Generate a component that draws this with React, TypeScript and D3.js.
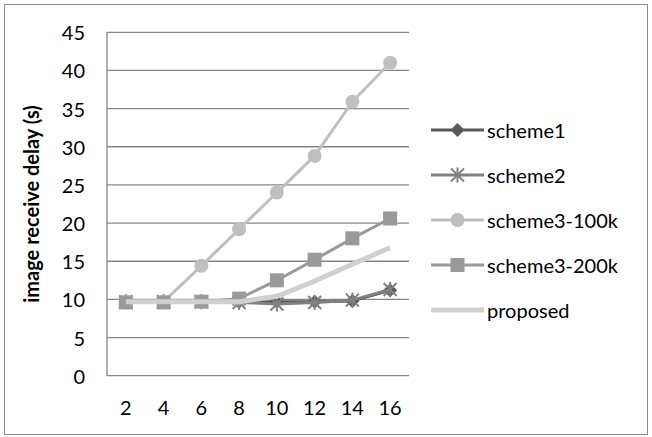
import React from "react";
import * as d3 from "d3";

const categories = ["2", "4", "6", "8", "10", "12", "14", "16"];
const scheme1 = [9.7, 9.7, 9.7, 9.7, 9.7, 9.7, 9.8, 11.2];
const scheme2 = [9.7, 9.7, 9.7, 9.6, 9.4, 9.6, 9.9, 11.3];
const scheme3_100k = [9.7, 9.7, 14.4, 19.2, 24.0, 28.8, 35.9, 41.0];
const scheme3_200k = [9.6, 9.6, 9.7, 10.1, 12.5, 15.2, 18.0, 20.6];
const proposed = [9.7, 9.7, 9.7, 9.7, 10.4, 12.4, 14.6, 16.8];
const yTicks = [0, 5, 10, 15, 20, 25, 30, 35, 40, 45];

type Marker = "diamond" | "star" | "circle" | "square" | "none";
const seriesList: { name: string; values: number[]; color: string; width: number; marker: Marker }[] = [
  { name: "scheme1", values: scheme1, color: "#595959", width: 3, marker: "diamond" },
  { name: "scheme2", values: scheme2, color: "#808080", width: 3, marker: "star" },
  { name: "scheme3-100k", values: scheme3_100k, color: "#bfbfbf", width: 3, marker: "circle" },
  { name: "scheme3-200k", values: scheme3_200k, color: "#9a9a9a", width: 3, marker: "square" },
  { name: "proposed", values: proposed, color: "#d0d0d0", width: 5, marker: "none" },
];

const W = 652;
const H = 437;
const left = 107;
const right = 409;
const top = 32.3;
const bottom = 375.7;
const FONT = "Lato, 'Open Sans', sans-serif";

function MarkerShape({ type, x, y, color }: { type: Marker; x: number; y: number; color: string }) {
  if (type === "diamond") {
    const s = 7;
    return <path d={`M${x},${y - s}L${x + s},${y}L${x},${y + s}L${x - s},${y}Z`} fill={color} />;
  }
  if (type === "circle") {
    return <circle cx={x} cy={y} r={7} fill={color} />;
  }
  if (type === "square") {
    return <rect x={x - 7} y={y - 7} width={14} height={14} fill={color} />;
  }
  if (type === "star") {
    const s = 6.5;
    return (
      <g stroke={color} strokeWidth={2}>
        <line x1={x - s} y1={y - s} x2={x + s} y2={y + s} />
        <line x1={x - s} y1={y + s} x2={x + s} y2={y - s} />
        <line x1={x} y1={y - s - 1} x2={x} y2={y + s + 1} />
      </g>
    );
  }
  return null;
}

export default function App() {
  const x = d3.scaleBand<string>().domain(categories).range([left, right]);
  const y = d3.scaleLinear().domain([0, 45]).range([bottom, top]);
  const cx = (c: string) => (x(c) as number) + x.bandwidth() / 2;
  const line = d3
    .line<number>()
    .x((_, i) => cx(categories[i]))
    .y((d) => y(d));

  const legendX = 431;
  const legendY0 = 130;
  const legendStep = 45;

  return (
    <svg width={W} height={H} style={{ position: "absolute", left: 0, top: 0 }}>
      <rect x={0} y={0} width={W} height={H} fill="#fff" />
      <rect x={4.5} y={4.5} width={643} height={430} fill="none" stroke="#8c8c8c" strokeWidth={1} />
      {yTicks.map((t) => (
        <g key={t}>
          <line x1={left} x2={right} y1={y(t)} y2={y(t)} stroke="#868686" strokeWidth={1.3} />
          <text x={85} y={y(t)} textAnchor="end" dominantBaseline="central" fontFamily={FONT} fontSize={20} fill="#000">
            {t}
          </text>
        </g>
      ))}
      <line x1={left} x2={left} y1={top} y2={bottom} stroke="#868686" strokeWidth={1.3} />
      {categories.map((c) => (
        <text key={c} x={cx(c)} y={407} textAnchor="middle" dominantBaseline="central" fontFamily={FONT} fontSize={20} fill="#000">
          {c}
        </text>
      ))}
      <text
        transform={`translate(31,${(top + bottom) / 2}) rotate(-90)`}
        textAnchor="middle"
        dominantBaseline="central"
        fontFamily={FONT}
        fontSize={20}
        fontWeight="bold"
        fill="#000"
      >
        image receive delay (s)
      </text>
      {seriesList.map((s) => (
        <g key={s.name}>
          <path d={line(s.values) || ""} fill="none" stroke={s.color} strokeWidth={s.width} strokeLinejoin="round" />
          {s.values.map((v, i) => (
            <MarkerShape key={i} type={s.marker} x={cx(categories[i])} y={y(v)} color={s.color} />
          ))}
        </g>
      ))}
      {seriesList.map((s, i) => {
        const ly = legendY0 + i * legendStep;
        return (
          <g key={s.name}>
            <line x1={legendX} x2={legendX + 53} y1={ly} y2={ly} stroke={s.color} strokeWidth={s.width} />
            <MarkerShape type={s.marker} x={legendX + 26.5} y={ly} color={s.color} />
            <text x={legendX + 56} y={ly} dominantBaseline="central" fontFamily={FONT} fontSize={20} fill="#000">
              {s.name}
            </text>
          </g>
        );
      })}
    </svg>
  );
}
